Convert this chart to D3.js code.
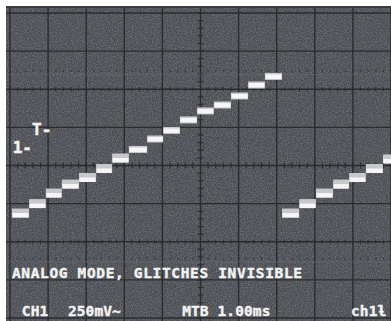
<!DOCTYPE html>
<html><head><meta charset="utf-8">
<script src="https://cdn.jsdelivr.net/npm/d3@7"></script>
<style>
html,body{margin:0;padding:0;background:#fff;}
svg{display:block;}
</style></head>
<body>
<svg id="c" width="391" height="321"></svg>
<script>
// ---- data (time in ms, level in mV) ----
const stepStart = [0.05,0.50,0.94,1.36,1.81,2.26,2.68,3.12,3.60,4.02,4.46,4.91,5.35,5.80,6.25,6.69,
                   7.14,7.59,8.03,8.48,8.90,9.34,9.79];
const stepLevel = [-315,-253,-184,-125,-82,-23,46,105,174,230,299,358,397,456,528,584,
                   -315,-253,-184,-125,-82,-23,40];
const traceEnd = 10.3;
const xDomain = [0, 10];        // 10 divisions, 1.00 ms/div
const yDomain = [-1000, 1000];  // 8 divisions, 250 mV/div
const markers = [{label:"T-", level:240, t:0.58, size:16},{label:"1-", level:120, t:0.07, size:16}];
const statusLine = "ANALOG MODE, GLITCHES INVISIBLE";
const bottomTexts = [{t:0.31, s:"CH1"},{t:1.52, s:"250mV~"},{t:4.52, s:"MTB 1.00ms"},{t:8.95, s:"ch1ƚ"}];

const svg = d3.select("#c");
const W = 391, H = 321;
const x = d3.scaleLinear().domain(xDomain).range([10, 391]);
const y = d3.scaleLinear().domain(yDomain).range([318, 13]);

// screen background with fine noise
const defs = svg.append("defs");
const f = defs.append("filter").attr("id","noise").attr("x",0).attr("y",0).attr("width","100%").attr("height","100%");
f.append("feTurbulence").attr("type","fractalNoise").attr("baseFrequency",0.8).attr("numOctaves",2).attr("seed",3).attr("result","n");
f.append("feColorMatrix").attr("in","n").attr("type","matrix")
 .attr("values","0 0 0 0 0.45  0 0 0 0 0.46  0 0 0 0 0.48  0 0 0 0.55 -0.22").attr("result","m");
f.append("feComposite").attr("in","m").attr("in2","SourceGraphic").attr("operator","in").attr("result","mm");
f.append("feMerge").call(s=>{s.append("feMergeNode").attr("in","SourceGraphic");s.append("feMergeNode").attr("in","mm");});

svg.append("rect").attr("x",6).attr("y",6).attr("width",W-6).attr("height",H-6)
  .attr("fill","#4d5055").attr("filter","url(#noise)");
svg.append("line").attr("x1",6).attr("x2",W).attr("y1",7).attr("y2",7).attr("stroke","#3a3c40").attr("stroke-width",2);

const gridColor = "#2a2c30";
const g = svg.append("g");
g.selectAll("line.vx").data(d3.range(xDomain[0], xDomain[1]+0.001, 1)).join("line")
  .attr("x1",d=>x(d)).attr("x2",d=>x(d)).attr("y1",7).attr("y2",H)
  .attr("stroke",gridColor).attr("stroke-width",1.4);
g.selectAll("line.hy").data(d3.range(yDomain[0], yDomain[1]+1, 250)).join("line")
  .attr("x1",6).attr("x2",W).attr("y1",d=>y(d)).attr("y2",d=>y(d))
  .attr("stroke",gridColor).attr("stroke-width",1.4);

const minorX = d3.range(xDomain[0], xDomain[1]+0.001, 0.2);
const minorY = d3.range(yDomain[0], yDomain[1]+1, 50);
g.selectAll("line.mx").data(minorX).join("line")
  .attr("x1",d=>x(d)).attr("x2",d=>x(d)).attr("y1",y(0)-3).attr("y2",y(0)+3)
  .attr("stroke",gridColor).attr("stroke-width",1.2);
g.selectAll("line.my").data(minorY).join("line")
  .attr("y1",d=>y(d)).attr("y2",d=>y(d)).attr("x1",x(5)-3).attr("x2",x(5)+3)
  .attr("stroke",gridColor).attr("stroke-width",1.2);
[500,-500].forEach(lv=>{
  g.append("g").selectAll("line").data(minorX).join("line")
   .attr("x1",d=>x(d)).attr("x2",d=>x(d)).attr("y1",y(lv)-2).attr("y2",y(lv)+2)
   .attr("stroke",gridColor).attr("stroke-width",1);
});
[620,-610].forEach(lv=>{
  g.append("g").selectAll("rect").data(minorX).join("rect")
   .attr("x",d=>x(d)-0.6).attr("y",y(lv)-1).attr("width",1.2).attr("height",2)
   .attr("fill",gridColor).attr("opacity",0.7);
  g.append("line").attr("x1",6).attr("x2",W).attr("y1",y(lv)+3.5).attr("y2",y(lv)+3.5)
   .attr("stroke","#6a6d72").attr("stroke-width",1.5).attr("opacity",0.4);
});

// staircase trace
const segs = stepStart.map((t,i)=>({t0:t, t1: i+1<stepStart.length && stepStart[i+1]>t ? stepStart[i+1] : (i===15?7.17:traceEnd), v:stepLevel[i]}));
const tr = svg.append("g");
tr.selectAll("rect.halo").data(segs).join("rect")
  .attr("x",d=>x(d.t0)).attr("width",d=>x(d.t1)-x(d.t0))
  .attr("y",d=>y(d.v)-(d.v<100?5:3.5)).attr("height",d=>d.v<100?9:7)
  .attr("fill","#c6c8cb");
tr.selectAll("rect.core").data(segs).join("rect")
  .attr("x",d=>x(d.t0)+0.5).attr("width",d=>x(d.t1)-x(d.t0)-1)
  .attr("y",d=>y(d.v)-(d.v<100?0.5:2)).attr("height",4.5)
  .attr("fill","#f6f6f6");

// text
const font = "'DejaVu Sans Mono', monospace";
svg.selectAll("text.mk").data(markers).join("text")
  .attr("x",d=>x(d.t)).attr("y",d=>y(d.level)+6)
  .attr("font-family",font).attr("font-weight","bold").attr("font-size",d=>d.size)
  .attr("fill","#f2f2f2").attr("stroke","#f2f2f2").attr("stroke-width",0.5).text(d=>d.label);
svg.append("text").attr("x",x(0.05)).attr("y",277.5)
  .attr("font-family",font).attr("font-weight","bold").attr("font-size",14.5)
  .attr("letter-spacing",0.65).attr("fill","#f2f2f2").attr("stroke","#f2f2f2").attr("stroke-width",0.4)
  .text(statusLine);
svg.selectAll("text.bt").data(bottomTexts).join("text")
  .attr("x",d=>x(d.t)).attr("y",315.5)
  .attr("font-family",font).attr("font-weight","bold").attr("font-size",14.5)
  .attr("letter-spacing",0.1).attr("fill","#f2f2f2").attr("stroke","#f2f2f2").attr("stroke-width",0.4)
  .text(d=>d.s);

svg.append("rect").attr("x",0).attr("y",0).attr("width",W).attr("height",6).attr("fill","#fff");
svg.append("rect").attr("x",0).attr("y",0).attr("width",6).attr("height",H).attr("fill","#fff");
</script>
</body></html>
